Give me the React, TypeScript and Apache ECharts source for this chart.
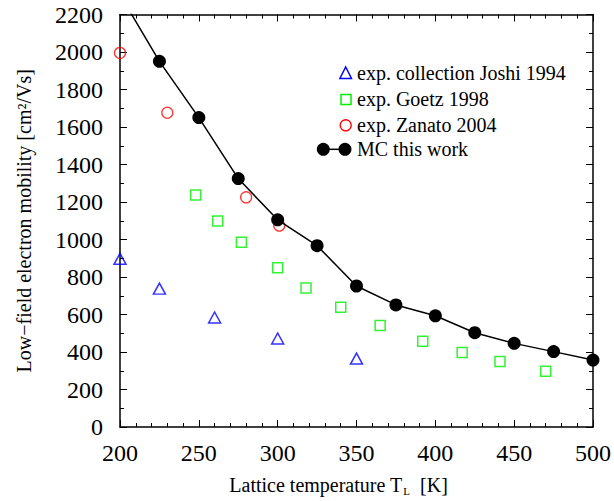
import React, { useEffect, useRef } from "react";
import * as echarts from "echarts";

const mcT = [200, 225, 250, 275, 300, 325, 350, 375, 400, 425, 450, 475, 500];
const mcMob = [2305, 1950, 1650, 1325, 1105, 967, 752, 651, 593, 503, 446, 402, 357];

const joshiT = [200, 225, 260, 300, 350];
const joshiMob = [897, 738, 584, 472, 365];

const goetzT = [248, 262, 277, 300, 318, 340, 365, 392, 417, 441, 470];
const goetzMob = [1238, 1099, 986, 849, 741, 639, 541, 458, 398, 350, 297];

const zanatoT = [200, 230, 280, 301];
const zanatoMob = [1995, 1676, 1225, 1074];

const xTicks = [200, 250, 300, 350, 400, 450, 500];
const yTicks = [0, 200, 400, 600, 800, 1000, 1200, 1400, 1600, 1800, 2000, 2200];

const legendNames = [
  "exp. collection Joshi 1994",
  "exp. Goetz 1998",
  "exp. Zanato 2004",
  "MC this work",
];

const FONT = "Liberation Serif";

const zip = (a: number[], b: number[]) => a.map((v, i) => [v, b[i]]);

export default function App() {
  const ref = useRef<HTMLDivElement>(null);
  useEffect(() => {
    const chart = echarts.init(ref.current!, null, { renderer: "svg" });
    const axisCommon = {
      axisLine: { show: true, onZero: false, lineStyle: { color: "#000", width: 1.5 } },
      axisTick: { show: true, inside: true, length: 7, lineStyle: { color: "#000", width: 1 } },
      minorTick: { show: true, length: 4, lineStyle: { color: "#000", width: 1 } },
      splitLine: { show: false },
    };
    const fmt = (v: number) => String(v);
    chart.setOption({
      animation: false,
      backgroundColor: "#fff",
      grid: { left: 120, right: 21, top: 14.5, bottom: 72, containLabel: false },
      xAxis: [
        {
          type: "value",
          min: xTicks[0],
          max: xTicks[xTicks.length - 1],
          interval: 50,
          position: "bottom",
          ...axisCommon,
          minorTick: { ...axisCommon.minorTick, splitNumber: 5 },
          axisLabel: { color: "#000", fontFamily: FONT, fontSize: 24, margin: 14, formatter: fmt },
          name: "{a|Lattice temperature T}{s|L}{a|  [K]}",
          nameLocation: "middle",
          nameGap: 46,
          nameTextStyle: {
            padding: [0, 36, 0, 0],
            rich: {
              a: { fontFamily: FONT, fontSize: 20, color: "#000" },
              s: { fontFamily: FONT, fontSize: 11, color: "#000", padding: [12, 0, 0, 1] },
            },
          },
        },
        {
          type: "value",
          min: xTicks[0],
          max: xTicks[xTicks.length - 1],
          interval: 50,
          position: "top",
          ...axisCommon,
          minorTick: { ...axisCommon.minorTick, splitNumber: 5 },
          axisLabel: { show: false },
        },
      ],
      yAxis: [
        {
          type: "value",
          min: yTicks[0],
          max: yTicks[yTicks.length - 1],
          interval: 200,
          position: "left",
          ...axisCommon,
          minorTick: { ...axisCommon.minorTick, splitNumber: 2 },
          axisLabel: { color: "#000", fontFamily: FONT, fontSize: 24, margin: 17, formatter: fmt },
          name: "Low\u2212field electron mobility [cm\u00B2/Vs]",
          nameLocation: "middle",
          nameGap: 86,
          nameTextStyle: { fontFamily: FONT, fontSize: 20, color: "#000" },
        },
        {
          type: "value",
          min: yTicks[0],
          max: yTicks[yTicks.length - 1],
          interval: 200,
          position: "right",
          ...axisCommon,
          minorTick: { ...axisCommon.minorTick, splitNumber: 2 },
          axisLabel: { show: false },
        },
      ],
      series: [
        {
          name: legendNames[0],
          type: "scatter",
          data: zip(joshiT, joshiMob),
          symbol: "triangle",
          symbolSize: [12, 11],
          itemStyle: { color: "transparent", borderColor: "#0000ff", borderWidth: 1.5 },
          z: 3,
        },
        {
          name: legendNames[1],
          type: "scatter",
          data: zip(goetzT, goetzMob),
          symbol: "rect",
          symbolSize: 10,
          itemStyle: { color: "transparent", borderColor: "#00ee00", borderWidth: 1.5 },
          z: 3,
        },
        {
          name: legendNames[2],
          type: "scatter",
          data: zip(zanatoT, zanatoMob),
          symbol: "circle",
          symbolSize: 11,
          itemStyle: { color: "transparent", borderColor: "#ff0000", borderWidth: 1.3 },
          z: 3,
        },
        {
          name: legendNames[3],
          type: "line",
          data: zip(mcT, mcMob),
          symbol: "circle",
          symbolSize: 13,
          clip: true,
          lineStyle: { color: "#000", width: 1.5 },
          itemStyle: { color: "#000" },
          z: 4,
        },
      ],
      graphic: [
        { type: "polygon", shape: { points: [[345.7, 67], [351.5, 78.5], [339.9, 78.5]] }, style: { fill: "none", stroke: "#0000ff", lineWidth: 1.5 } },
        { type: "rect", shape: { x: 341, y: 94.5, width: 10, height: 10 }, style: { fill: "none", stroke: "#00ee00", lineWidth: 1.5 } },
        { type: "circle", shape: { cx: 345.7, cy: 125.3, r: 5.5 }, style: { fill: "none", stroke: "#ff0000", lineWidth: 1.3 } },
        { type: "line", shape: { x1: 323.3, y1: 149.3, x2: 345, y2: 149.3 }, style: { stroke: "#000", lineWidth: 1.5 } },
        { type: "circle", shape: { cx: 323.3, cy: 149.3, r: 6.5 }, style: { fill: "#000" } },
        { type: "circle", shape: { cx: 345, cy: 149.3, r: 6.5 }, style: { fill: "#000" } },
        ...legendNames.map((n, i) => ({
          type: "text",
          x: 357,
          y: [73.3, 99.3, 125.3, 149.3][i],
          style: { text: n, fontFamily: FONT, fontSize: 20, fill: "#000", verticalAlign: "middle" },
        })),
      ],
    });
    return () => chart.dispose();
  }, []);
  return <div ref={ref} style={{ width: 614, height: 501, position: "absolute", left: 0, top: 0 }} />;
}
